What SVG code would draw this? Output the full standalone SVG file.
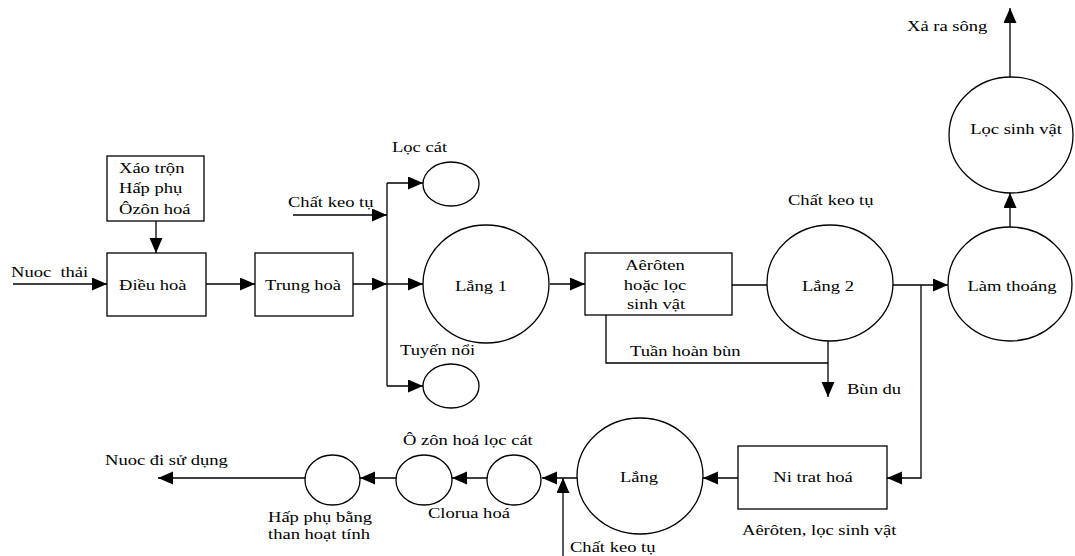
<svg xmlns="http://www.w3.org/2000/svg" width="1075" height="556" viewBox="0 0 1075 556">
<style>
text{font-family:"Liberation Serif","Times New Roman",serif;font-size:14.5px;fill:#000}
.m{text-anchor:middle}
.s{fill:#fff;stroke:#000;stroke-width:1.3}
.c{fill:none;stroke:#000;stroke-width:1.3}
.a{marker-end:url(#ah)}
</style>
<defs>
<marker id="ah" markerUnits="userSpaceOnUse" markerWidth="16" markerHeight="14" refX="15" refY="6.5" orient="auto">
<path d="M0,0 L15,6.5 L0,13 z" fill="#000"/>
</marker>
</defs>
<rect width="1075" height="556" fill="#fff"/>
<g id="connectors">
<path class="c a" d="M13,284 H107"/>
<path class="c a" d="M156,221 V253"/>
<path class="c a" d="M206,284 H255"/>
<path class="c a" d="M353,284 H387"/>
<path class="c a" d="M293,215 H387"/>
<path class="c" d="M387,183 V386"/>
<path class="c a" d="M387,183 H423"/>
<path class="c a" d="M387,284 H423"/>
<path class="c a" d="M387,386 H423"/>
<path class="c a" d="M550,284 H585"/>
<path class="c" d="M732,285 H767"/>
<path class="c" d="M606,315 V363 H828"/>
<path class="c a" d="M828,341 V397"/>
<path class="c a" d="M893,285 H948"/>
<path class="c a" d="M921,285 V478 H887"/>
<path class="c a" d="M1010,227 V193"/>
<path class="c a" d="M1010,77 V8"/>
<path class="c a" d="M738,478 H703"/>
<path class="c a" d="M577,478 H542"/>
<path class="c a" d="M563,556 V478"/>
<path class="c a" d="M487,478 H452"/>
<path class="c a" d="M396,478 H360"/>
<path class="c a" d="M305,478 H158"/>
</g>
<g id="labels">
<text transform="translate(11,277) scale(1.28,1)">Nuoc&#160; thải</text>
<text transform="translate(288,207) scale(1.28,1)">Chất keo tụ</text>
<text transform="translate(392,152) scale(1.28,1)">Lọc cát</text>
<text transform="translate(400,355) scale(1.28,1)">Tuyến nổi</text>
<text transform="translate(630,356) scale(1.28,1)">Tuần hoàn bùn</text>
<text transform="translate(788,205) scale(1.28,1)">Chất keo tụ</text>
<text transform="translate(907,31) scale(1.28,1)">Xả ra sông</text>
<text transform="translate(847,394) scale(1.28,1)">Bùn du</text>
<text transform="translate(742,535) scale(1.28,1)">Aêrôten, lọc sinh vật</text>
<text transform="translate(570,552) scale(1.28,1)">Chất keo tụ</text>
<text transform="translate(105,465) scale(1.28,1)">Nuoc đi sử dụng</text>
<text transform="translate(403,445) scale(1.28,1)">Ô zôn hoá lọc cát</text>
<text transform="translate(428,518) scale(1.28,1)">Clorua hoá</text>
<text transform="translate(268,522) scale(1.28,1)">Hấp phụ bằng</text>
<text transform="translate(268,539) scale(1.28,1)">than hoạt tính</text>
</g>
<g id="xao-tron">
<rect class="s" x="107" y="156" width="97" height="65"/>
<text transform="translate(119,173) scale(1.28,1)">Xáo trộn</text>
<text transform="translate(119,193) scale(1.28,1)">Hấp phụ</text>
<text transform="translate(119,214) scale(1.28,1)">Ôzôn hoá</text>
</g>
<g id="dieu-hoa">
<rect class="s" x="107" y="253" width="99" height="63"/>
<text transform="translate(119,290) scale(1.28,1)">Điều hoà</text>
</g>
<g id="trung-hoa">
<rect class="s" x="255" y="253" width="98" height="63"/>
<text transform="translate(265,290) scale(1.28,1)">Trung hoà</text>
</g>
<g id="loc-cat">
<ellipse class="s" cx="451" cy="184" rx="28" ry="22"/>
</g>
<g id="tuyen-noi">
<ellipse class="s" cx="451" cy="386" rx="28" ry="22"/>
</g>
<g id="lang-1">
<ellipse class="s" cx="486" cy="284" rx="63" ry="59"/>
<text class="m" transform="translate(481,291) scale(1.28,1)">Lắng 1</text>
</g>
<g id="aeroten">
<rect class="s" x="585" y="253" width="147" height="62"/>
<text class="m" transform="translate(655,270) scale(1.28,1)">Aêrôten</text>
<text class="m" transform="translate(655,290) scale(1.28,1)">hoặc lọc</text>
<text class="m" transform="translate(656,309) scale(1.28,1)">sinh vật</text>
</g>
<g id="lang-2">
<ellipse class="s" cx="830" cy="283" rx="63" ry="58"/>
<text class="m" transform="translate(828,291) scale(1.28,1)">Lắng 2</text>
</g>
<g id="lam-thoang">
<ellipse class="s" cx="1010" cy="284" rx="62" ry="57"/>
<text class="m" transform="translate(1012,291) scale(1.28,1)">Làm thoáng</text>
</g>
<g id="loc-sinh-vat">
<ellipse class="s" cx="1011" cy="135" rx="62" ry="58"/>
<text class="m" transform="translate(1016,134) scale(1.28,1)">Lọc sinh vật</text>
</g>
<g id="ni-trat-hoa">
<rect class="s" x="738" y="446" width="149" height="63"/>
<text class="m" transform="translate(813,482) scale(1.28,1)">Ni trat hoá</text>
</g>
<g id="lang">
<ellipse class="s" cx="640" cy="476" rx="63" ry="58"/>
<text class="m" transform="translate(639,482) scale(1.28,1)">Lắng</text>
</g>
<g id="clorua-hoa">
<ellipse class="s" cx="514" cy="480" rx="27" ry="25"/>
</g>
<g id="ozon-hoa">
<ellipse class="s" cx="424" cy="480" rx="28" ry="25"/>
</g>
<g id="hap-phu">
<ellipse class="s" cx="332.5" cy="480" rx="27.5" ry="25"/>
</g>
</svg>
